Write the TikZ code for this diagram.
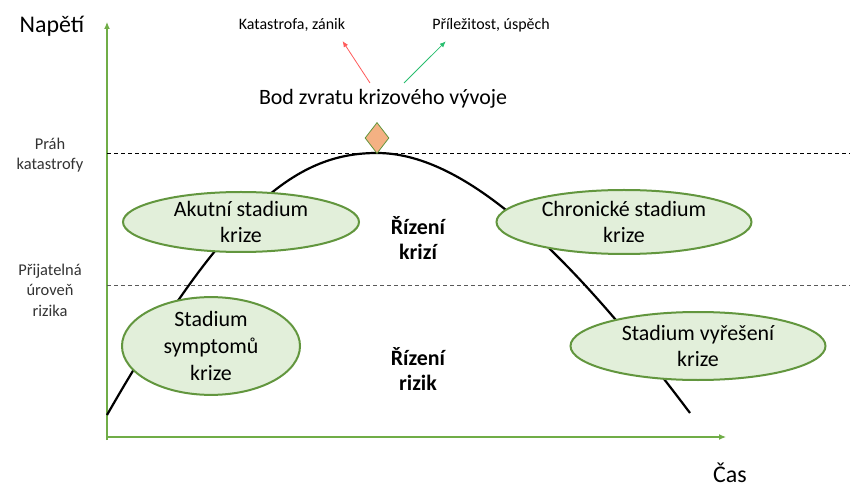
\documentclass[tikz,border=0pt]{standalone}
\usepackage{fontspec}
\setmainfont{Carlito}
\usepackage{xcolor}
\usetikzlibrary{shapes.geometric,arrows.meta}

\definecolor{axisgreen}{RGB}{112,173,71}
\definecolor{stagegreen}{RGB}{98,150,62}
\definecolor{stagefill}{RGB}{226,239,218}
\definecolor{turnfill}{RGB}{244,177,131}
\definecolor{lossred}{RGB}{255,90,90}
\definecolor{gaingreen}{RGB}{40,190,110}

\tikzset{
    stage/.style={ellipse, draw=stagegreen, line width=2bp, fill=stagefill,
        inner sep=0pt, align=center, font=\fontsize{22}{27}\selectfont},
    zone/.style={align=center, font=\fontsize{22}{26}\selectfont\bfseries},
    level/.style={align=center, font=\fontsize{16.5}{20.5}\selectfont, text=black!80},
    outcome/.style={font=\fontsize{16}{19}\selectfont},
    axislabel/.style={font=\fontsize{24}{28}\selectfont, inner sep=1bp}
}

\begin{document}
\begin{tikzpicture}[x=1bp,y=-1bp]
    \useasboundingbox (0,0) rectangle (850,487);

    % Axis
    \draw[axisgreen, line width=1.2bp, -{Latex[length=7bp,width=6bp]}] (107,440) -- (107,22);
    \draw[axisgreen, line width=1.2bp, -{Latex[length=7bp,width=6bp]}] (106,437) -- (726,437);
    \node[axislabel, anchor=base] (napeti) at (52,33) {Napětí};
    \node[axislabel, anchor=base] (cas) at (730,482) {Čas};

    % Thresholds
    \draw[dashed, dash pattern=on 4bp off 3bp, line width=0.9bp] (107,153) -- (850,153);
    \draw[dashed, dash pattern=on 4bp off 3bp, line width=0.8bp, black!65] (107,285) -- (850,285);
    \node[level] (prah) at (50,155) {Práh\\katastrofy};
    \node[level] (prijatelna) at (50,290) {Přijatelná\\úroveň\\rizika};

    % Crisis curve
    \draw[line width=2.2bp] (107,415) .. controls (230,200) and (300,153) .. (377,153)
        .. controls (460,153) and (560,240) .. (690,413);

    % Turning point
    \node[diamond, draw=stagegreen, fill=turnfill, line width=0.8bp, minimum width=24bp,
        minimum height=31bp, inner sep=0pt] (zvrat) at (377,138) {};
    \node[font=\fontsize{22}{26}\selectfont] (bod) at (383,99) {Bod zvratu krizového vývoje};
    \node[outcome] (katastrofa) at (292,25) {Katastrofa, zánik};
    \node[outcome] (prilezitost) at (491,25) {Příležitost, úspěch};
    \draw[lossred, line width=0.8bp, -{Latex[length=6bp,width=5bp]}] ([xshift=-13bp,yshift=3bp]bod.north) -- ([xshift=-6bp,yshift=-6bp]katastrofa.south east);
    \draw[gaingreen, line width=0.8bp, -{Latex[length=6bp,width=5bp]}] ([xshift=21bp,yshift=3bp]bod.north) -- ([xshift=17bp,yshift=-6bp]prilezitost.south west);

    % Stages
    \node[stage, minimum width=236bp, minimum height=60bp] (akutni) at (241,222) {Akutní stadium\\krize};
    \node[stage, minimum width=255bp, minimum height=64bp] (chronicke) at (624,222) {Chronické stadium\\krize};
    \node[stage, minimum width=178bp, minimum height=88bp] (symptomy) at (211,346) {Stadium\\symptomů\\krize};
    \node[stage, minimum width=255bp, minimum height=68bp] (vyreseni) at (698,346) {Stadium vyřešení\\krize};

    % Zones
    \node[zone] (krize) at (418,238) {Řízení\\krizí};
    \node[zone] (rizika) at (418,369) {Řízení\\rizik};
\end{tikzpicture}
\end{document}
